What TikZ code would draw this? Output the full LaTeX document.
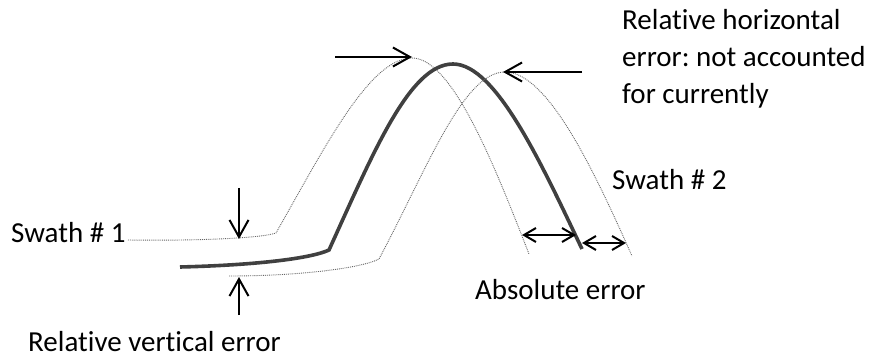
\documentclass[tikz,border=0pt]{standalone}
\usepackage{fontspec}
\setmainfont[Ligatures=NoCommon]{Carlito}
\usetikzlibrary{arrows.meta}
\frenchspacing
\begin{document}
\begin{tikzpicture}[x=1pt,y=-1pt,
  lbl/.style={inner sep=0pt,anchor=base west,font=\fontsize{29}{37}\selectfont},
  swath/.style={draw=black!60,line width=0.9pt,densely dotted},
  mainline/.style={draw=black!75,line width=3.6pt},
  arr/.style={draw=black,line width=2pt,-{Straight Barb[length=17pt,width=19pt,line width=2pt]}},
  darr/.style={draw=black,line width=2pt,{Straight Barb[length=12pt,width=14pt,line width=2pt]}-{Straight Barb[length=12pt,width=14pt,line width=2pt]}}]
\useasboundingbox (0,0) rectangle (876,358);
% labels
\node[lbl] (s1) at (11,243) {Swath \# 1};
\node[lbl] (s2) at (612,190) {Swath \# 2};
\node[lbl] (abs) at (475,300) {Absolute error};
\node[lbl] (rve) at (28,352) {Relative vertical error};
\node[lbl] (rh1) at (622,30) {Relative horizontal};
\node[lbl] (rh2) at (622,67) {error: not accounted};
\node[lbl] (rh3) at (622,104) {for currently};
% swath 1
\draw[swath] (128,240) .. controls (200,241) and (262,238) .. (276,233)
  .. controls (326,145) and (370,58) .. (412,58)
  .. controls (452,58) and (494,164) .. (529,254);
% main line
\draw[mainline] (180,267) .. controls (260,265) and (312,258) .. (329,250)
  .. controls (374,151) and (410,64) .. (453,64)
  .. controls (496,64) and (542,165) .. (582,249);
% swath 2
\draw[swath] (229,276) .. controls (300,276) and (362,268) .. (379,259)
  .. controls (427,169) and (463,72) .. (505,72)
  .. controls (547,72) and (592,166) .. (632,256);
% arrow coordinates
\coordinate (tlA) at (335,57);
\coordinate (tlB) at (412,57);
\coordinate (trA) at (582,72);
\coordinate (trB) at (503,72);
\coordinate (dA) at (239,188);
\coordinate (dB) at (239,239);
\coordinate (uA) at (239,315);
\coordinate (uB) at (239,277);
\coordinate (a1A) at (522,235);
\coordinate (a1B) at (576,235);
\coordinate (a2A) at (582,243);
\coordinate (a2B) at (626,243);
\draw[arr] (tlA) -- (tlB);
\draw[arr] (trA) -- (trB);
\draw[arr] (dA) -- (dB);
\draw[arr] (uA) -- (uB);
\draw[darr] (a1A) -- (a1B);
\draw[darr] (a2A) -- (a2B);
\end{tikzpicture}
\end{document}
